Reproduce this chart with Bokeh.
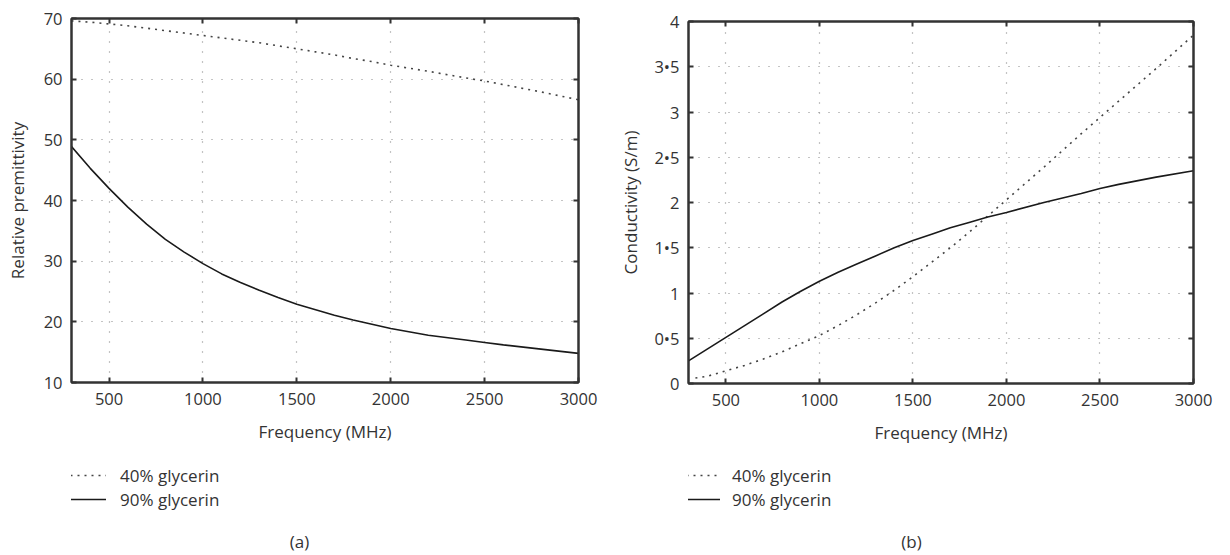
from bokeh.plotting import figure
from bokeh.layouts import row, column
from bokeh.models import (LinearAxis, Legend, LegendItem, Label, Range1d,
                          FixedTicker, CustomJSTickFormatter)
from bokeh.embed import file_html
from bokeh.resources import INLINE

# ---------------- data ----------------
freq = [300, 400, 500, 600, 700, 800, 900, 1000, 1100, 1200, 1300, 1400, 1500,
        1600, 1700, 1800, 1900, 2000, 2200, 2400, 2500, 2600, 2800, 3000]

perm_40 = [69.6, 69.4, 69.1, 68.8, 68.4, 68.0, 67.6, 67.2, 66.8, 66.4, 66.0, 65.5, 65.0,
           64.5, 64.0, 63.4, 62.9, 62.3, 61.3, 60.2, 59.7, 59.1, 57.9, 56.6]
perm_90 = [48.9, 45.3, 42.0, 38.9, 36.1, 33.6, 31.5, 29.6, 27.9, 26.5, 25.2, 24.0, 22.9,
           22.0, 21.1, 20.3, 19.6, 18.9, 17.8, 17.0, 16.6, 16.2, 15.5, 14.8]

freq_c40 = [337, 400, 500, 600, 700, 800, 900, 1000, 1100, 1200, 1300, 1400, 1500,
            1600, 1700, 1800, 1900, 2000, 2200, 2400, 2500, 2600, 2800, 3000]
cond_40 = [0.06, 0.08, 0.14, 0.20, 0.27, 0.35, 0.44, 0.53, 0.64, 0.76, 0.89, 1.03, 1.18,
           1.34, 1.50, 1.67, 1.85, 2.03, 2.39, 2.76, 2.94, 3.12, 3.48, 3.85]
cond_90 = [0.25, 0.38, 0.51, 0.64, 0.77, 0.90, 1.02, 1.13, 1.23, 1.32, 1.41, 1.50, 1.58,
           1.65, 1.72, 1.78, 1.84, 1.89, 2.00, 2.10, 2.155, 2.20, 2.28, 2.35]

x_ticks = [500, 1000, 1500, 2000, 2500, 3000]
perm_ticks = [10, 20, 30, 40, 50, 60, 70]
cond_ticks = [0, 0.5, 1, 1.5, 2, 2.5, 3, 3.5, 4]
cond_tick_labels = ["0", "0\u20225", "1", "1\u20225", "2", "2\u20225", "3", "3\u20225", "4"]

series_names = ["40% glycerin", "90% glycerin"]
x_label = "Frequency (MHz)"
y_label_a = "Relative premittivity"
y_label_b = "Conductivity (S/m)"
panel_tags = ["(a)", "(b)"]

FONT = "Open Sans"
TXT = "#333333"
AX = "#333333"
H_MAIN = 455
H_LEG = 98
DOT = "2 5"
C40 = "#444444"
C90 = "#1a1a1a"


def style_axis(ax, labels=True):
    ax.axis_line_color = AX
    ax.axis_line_width = 2
    ax.major_tick_line_color = AX
    ax.major_tick_line_width = 2
    ax.major_tick_in = 5
    ax.major_tick_out = 0
    ax.minor_tick_line_color = None
    ax.major_label_text_font = FONT
    ax.major_label_text_color = TXT
    ax.axis_label_text_font = FONT
    ax.axis_label_text_color = TXT
    ax.axis_label_text_font_style = "normal"
    ax.axis_label_text_font_size = "17px"
    if labels:
        ax.major_label_text_font_size = "16.5px"
    else:
        ax.major_label_text_font_size = "0px"
        ax.major_label_standoff = 0
        ax.formatter = CustomJSTickFormatter(code="return ''")


def make_panel(width, mb_left, mb_right, mb_top, mb_bottom, y_range, y_ticks,
               xs40, ys40, xs90, ys90, ylabel, y_overrides=None, ylab_standoff=12):
    p = figure(width=width, height=H_MAIN, output_backend="svg", toolbar_location=None,
               x_range=Range1d(300, 3000), y_range=Range1d(*y_range),
               min_border_left=mb_left, min_border_right=mb_right,
               min_border_top=mb_top, min_border_bottom=mb_bottom)
    p.background_fill_color = "white"
    p.outline_line_color = AX
    p.outline_line_width = 2

    p.xaxis.ticker = FixedTicker(ticks=x_ticks)
    p.yaxis.ticker = FixedTicker(ticks=y_ticks)
    style_axis(p.xaxis[0])
    style_axis(p.yaxis[0])
    p.xaxis.axis_label = x_label
    p.yaxis.axis_label = ylabel
    p.xaxis.major_label_standoff = 10
    p.yaxis.major_label_standoff = 9
    p.xaxis.axis_label_standoff = 12
    p.yaxis.axis_label_standoff = ylab_standoff
    if y_overrides is not None:
        p.yaxis.major_label_overrides = y_overrides

    top = LinearAxis(ticker=FixedTicker(ticks=x_ticks))
    style_axis(top, labels=False)
    p.add_layout(top, "above")
    right = LinearAxis(ticker=FixedTicker(ticks=y_ticks))
    style_axis(right, labels=False)
    p.add_layout(right, "right")

    for g in (p.xgrid[0], p.ygrid[0]):
        g.grid_line_color = "#888888"
        g.grid_line_dash = "1 9"
        g.grid_line_width = 1.2
    p.xgrid.ticker = FixedTicker(ticks=x_ticks)
    p.ygrid.ticker = FixedTicker(ticks=y_ticks)

    p.line(xs40, ys40, line_color=C40, line_width=1.6, line_dash=DOT)
    p.line(xs90, ys90, line_color=C90, line_width=1.6)
    return p


def make_legend_fig(width, mb_left, mb_right, xs40, ys40, xs90, ys90,
                    leg_x, glyph_w, standoff, tag, tag_x):
    # the series lie outside this strip's ranges: only their legend shows
    q = figure(width=width, height=H_LEG, output_backend="svg", toolbar_location=None,
               x_range=Range1d(0, 1), y_range=Range1d(0, 1),
               x_axis_location=None, y_axis_location=None,
               min_border_left=mb_left, min_border_right=mb_right,
               min_border_top=0, min_border_bottom=0)
    q.grid.visible = False
    q.outline_line_color = None
    r40 = q.line(xs40, ys40, line_color=C40, line_width=1.6, line_dash=DOT)
    r90 = q.line(xs90, ys90, line_color=C90, line_width=1.6)
    leg = Legend(items=[LegendItem(label=series_names[0], renderers=[r40]),
                        LegendItem(label=series_names[1], renderers=[r90])],
                 location=(leg_x, 42), orientation="vertical",
                 label_text_font=FONT, label_text_font_size="17px", label_text_color=TXT,
                 label_height=24, glyph_height=24, glyph_width=glyph_w,
                 label_standoff=standoff, spacing=0, padding=0, margin=0,
                 border_line_color=None, background_fill_alpha=0)
    q.add_layout(leg, "center")
    q.add_layout(Label(x=tag_x, y=12, x_units="screen", y_units="screen", text=tag,
                       text_font=FONT, text_font_size="17px", text_color=TXT,
                       text_align="center", text_baseline="middle"))
    return q


pa = make_panel(615, 71, 37, 18, H_MAIN - 382, (10, 70), perm_ticks,
                freq, perm_40, freq, perm_90, y_label_a, ylab_standoff=12)
pb = make_panel(615, 73, 37, 21, H_MAIN - 383, (0, 4), cond_ticks,
                freq_c40, cond_40, freq, cond_90, y_label_b,
                y_overrides=dict(zip(cond_ticks, cond_tick_labels)), ylab_standoff=9)

la = make_legend_fig(615, 71, 37, freq, perm_40, freq, perm_90,
                     -1, 36, 14, panel_tags[0], 228)
lb = make_legend_fig(615, 73, 37, freq_c40, cond_40, freq, cond_90,
                     -2, 34, 12, panel_tags[1], 223)

layout = row(column(pa, la), column(pb, lb))
open("out.html", "w").write(file_html(layout, INLINE))
